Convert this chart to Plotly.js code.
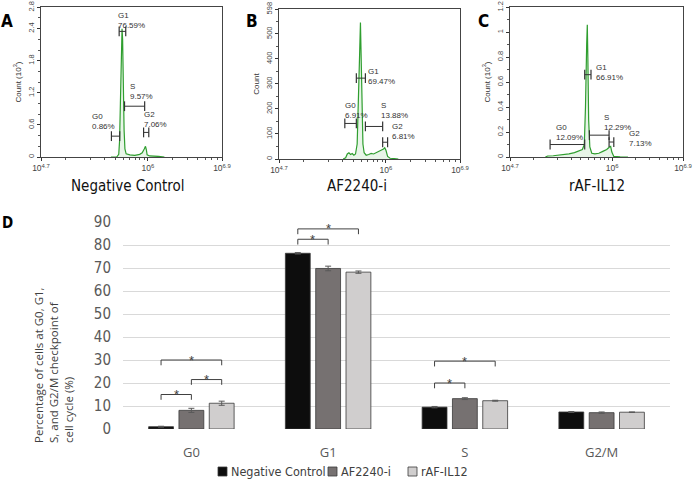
<!DOCTYPE html>
<html>
<head>
<meta charset="utf-8">
<script src="https://cdn.plot.ly/plotly-3.0.1.min.js"></script>
<style>
body{margin:0;background:#fff}
#chart{width:693px;height:479px}
</style>
</head>
<body>
<div id="chart"></div>
<script>
"use strict"

// histograms: x = log10(DNA content), y = count
let negX = [5.55,5.62,5.645,5.655,5.665,5.675,5.685,5.692,5.70,5.71,5.72,5.735,5.78,5.84,5.90,5.93,5.955,5.97,5.98,5.99,6.02,6.08,6.13,6.2];
let negY = [0,0,0.05,0.3,1.0,1.9,2.4,2.2,1.3,0.5,0.15,0.06,0.04,0.03,0.05,0.08,0.15,0.2,0.14,0.04,0.02,0.02,0.01,0];
let afX = [5.48,5.51,5.53,5.55,5.57,5.59,5.61,5.63,5.65,5.665,5.68,5.69,5.70,5.71,5.72,5.735,5.76,5.79,5.82,5.85,5.88,5.91,5.94,5.97,5.985,6.0,6.02,6.05,6.1,6.15];
let afY = [0,5,20,25,18,22,15,20,60,200,420,545,420,180,60,25,15,18,22,20,25,28,35,40,45,35,10,3,2,0];
let rafX = [5.15,5.18,5.25,5.35,5.45,5.52,5.58,5.62,5.645,5.66,5.675,5.683,5.69,5.70,5.715,5.74,5.78,5.83,5.88,5.93,5.965,5.98,5.995,6.02,6.1,6.2];
let rafY = [0,0.008,0.01,0.015,0.025,0.035,0.05,0.06,0.1,0.4,0.9,1.06,0.8,0.3,0.08,0.03,0.025,0.03,0.045,0.06,0.08,0.085,0.04,0.005,0.002,0];

// gates: [name, percent, from, to, level]
let negGates = [['G0','0.86%',5.556,5.657,0.39],['G1','76.59%',5.65,5.73,2.35],['S','9.57%',5.715,5.96,0.95],['G2','7.06%',5.947,6.01,0.46]];
let afGates = [['G0','6.91%',5.50,5.64,142],['G1','69.47%',5.64,5.75,323],['S','13.88%',5.75,5.96,130],['G2','6.81%',5.96,6.02,67]];
let rafGates = [['G0','12.09%',5.21,5.65,0.10],['G1','66.91%',5.65,5.73,0.66],['S','12.29%',5.71,5.96,0.175],['G2','7.13%',5.96,6.02,0.12]];
// label anchor per gate [x, y]
let negLabelPos = [[5.30,0.67],[5.617,2.55],[5.76,1.22],[5.93,0.71]];
let afLabelPos = [[5.48,193],[5.76,330],[5.91,193],[6.05,110]];
let rafLabelPos = [[5.26,0.20],[5.765,0.68],[5.87,0.28],[6.19,0.145]];

// bar chart
let phases = ['G0','G1','S','G2/M'];
let negPct = [1.0,76.4,9.5,7.4];
let negErr = [0.2,0.3,0.3,0.2];
let afPct = [8.1,69.8,13.2,7.1];
let afErr = [0.9,1.0,0.4,0.3];
let rafPct = [11.2,68.2,12.3,7.3];
let rafErr = [0.9,0.5,0.2,0.1];
// significance brackets: [phase index, bar a, bar b, height]
let sigPairs = [[0,0,1,15],[0,1,2,21.5],[0,0,2,30],[1,0,1,82.5],[1,0,2,87],[2,0,1,20],[2,0,2,29.5]];

let W = 693, H = 479;
let narrow = '"DejaVu Sans Condensed", "Liberation Sans Narrow", "Arial Narrow", sans-serif';
let arial = '"Liberation Sans", Arial, sans-serif';
let greenLine = '#2f9e2f';

function px(x){ return x / W; }
function py(y){ return 1 - y / H; }

let minorTicks = [];
for(let k=1;k<=9;k++){ minorTicks.push(Math.log10(k*1e5)); }
for(let k=2;k<=7;k++){ minorTicks.push(Math.log10(k*1e6)); }

function histX(l, r, anchor){
	return {
		domain: [px(l), px(r)], anchor: anchor,
		range: [4.7, 6.9],
		tickmode: 'array',
		tickvals: [4.7, 6, 6.9],
		ticktext: ['10<sup>4.7</sup>', '10<sup>6</sup>', '10<sup>6.9</sup>'],
		ticks: 'outside', ticklen: 3, tickcolor: '#333',
		minor: {tickmode: 'array', tickvals: minorTicks, ticks: 'outside', ticklen: 2, tickcolor: '#555'},
		showline: true, mirror: true, linecolor: '#444', linewidth: 1,
		showgrid: false, zeroline: false,
		ticklabeloverflow: 'allow',
		tickfont: {family: arial, size: 8.5, color: '#444'}
	};
}

function histY(top, bottom, anchor, max, vals, minorStep, title){
	return {
		domain: [py(bottom), py(top)], anchor: anchor,
		range: [0, max * 1.002],
		tickmode: 'array', tickvals: vals,
		tickangle: -90,
		ticks: 'outside', ticklen: 3, tickcolor: '#333',
		minor: {dtick: minorStep, ticks: 'outside', ticklen: 2, tickcolor: '#555'},
		showline: true, mirror: true, linecolor: '#444', linewidth: 1,
		showgrid: false, zeroline: false,
		ticklabeloverflow: 'allow',
		tickfont: {family: arial, size: 7.5, color: '#444'},
		title: {text: title, font: {family: arial, size: 8, color: '#333'}, standoff: 4}
	};
}

let data = [];
let annotations = [];
let shapes = [];

let panels = [
	{x: negX, y: negY, gates: negGates, pos: negLabelPos, xa: 'x', ya: 'y'},
	{x: afX, y: afY, gates: afGates, pos: afLabelPos, xa: 'x2', ya: 'y2'},
	{x: rafX, y: rafY, gates: rafGates, pos: rafLabelPos, xa: 'x3', ya: 'y3'}
];

panels.forEach(p => {
	data.push({
		x: p.x, y: p.y, xaxis: p.xa, yaxis: p.ya,
		type: 'scatter', mode: 'lines',
		line: {color: greenLine, width: 1.2},
		fill: 'tozeroy', fillcolor: 'rgba(130,200,130,0.18)',
		showlegend: false, hoverinfo: 'skip'
	});
	let gx = [], gy = [];
	p.gates.forEach((g, i) => {
		gx.push(g[2], g[3], null);
		gy.push(g[4], g[4], null);
		annotations.push({
			xref: p.xa, yref: p.ya, x: p.pos[i][0], y: p.pos[i][1],
			text: g[0] + '<br>' + g[1], showarrow: false,
			xanchor: 'left', yanchor: 'middle', align: 'left',
			font: {family: arial, size: 8, color: '#333'}
		});
	});
	data.push({
		x: gx, y: gy, xaxis: p.xa, yaxis: p.ya,
		type: 'scatter', mode: 'lines+markers',
		line: {color: '#333', width: 1},
		marker: {symbol: 'line-ns', size: 7, line: {width: 1.2, color: '#333'}},
		showlegend: false, hoverinfo: 'skip'
	});
});

let barColors = ['#0d0d0d', '#767171', '#d0cece'];
let barNames = ['Negative Control', 'AF2240-i', 'rAF-IL12'];
[[negPct, negErr], [afPct, afErr], [rafPct, rafErr]].forEach((s, i) => {
	data.push({
		type: 'bar', x: phases, y: s[0], name: barNames[i],
		xaxis: 'x4', yaxis: 'y4',
		marker: {color: barColors[i], line: {color: '#3a3a3a', width: 0.8}},
		error_y: {type: 'data', array: s[1], color: '#595959', thickness: 1, width: 3},
		showlegend: false, hoverinfo: 'skip'
	});
});

let bargap = 0.335;
let slot = (1 - bargap) / 3;
let bracketColor = '#404040';
sigPairs.forEach(b => {
	let xa = b[0] + (b[1] - 1) * slot,
		xb = b[0] + (b[2] - 1) * slot,
		y = b[3], drop = 2.3;
	let base = {type: 'line', xref: 'x4', yref: 'y4', line: {color: bracketColor, width: 1}};
	shapes.push(Object.assign({x0: xa, x1: xa, y0: y - drop, y1: y}, base));
	shapes.push(Object.assign({x0: xa, x1: xb, y0: y, y1: y}, base));
	shapes.push(Object.assign({x0: xb, x1: xb, y0: y - drop, y1: y}, base));
	annotations.push({
		xref: 'x4', yref: 'y4', x: (xa + xb) / 2, y: y,
		text: '*', showarrow: false, yanchor: 'middle',
		font: {family: arial, size: 13, color: '#404040'}
	});
});

// legend drawn by hand so the swatch-to-text spacing matches
let legendX = [218, 328, 408];
barNames.forEach((n, i) => {
	shapes.push({
		type: 'rect', xref: 'paper', yref: 'paper',
		x0: px(legendX[i]), x1: px(legendX[i] + 9), y0: py(476), y1: py(467),
		fillcolor: barColors[i], line: {color: '#3a3a3a', width: 0.8}
	});
	annotations.push({
		xref: 'paper', yref: 'paper', x: px(legendX[i] + 11), y: py(471.5),
		text: n, showarrow: false, xanchor: 'left', yanchor: 'middle',
		font: {family: narrow, size: 12.5, color: '#404040'}
	});
});

// panel letters and sample names
[['A', 7, 21, 17], ['B', 252, 21, 17], ['C', 483, 21, 17], ['D', 7, 223, 15]].forEach(l => {
	annotations.push({
		xref: 'paper', yref: 'paper', x: px(l[1]), y: py(l[2]),
		text: '<b>' + l[0] + '</b>', showarrow: false,
		xanchor: 'center', yanchor: 'middle',
		font: {family: narrow, size: l[3], color: '#000'}
	});
});
[['Negative Control', 128], ['AF2240-i', 357], ['rAF-IL12', 597]].forEach(t => {
	annotations.push({
		xref: 'paper', yref: 'paper', x: px(t[1]), y: py(186),
		text: t[0], showarrow: false,
		xanchor: 'center', yanchor: 'middle',
		font: {family: narrow, size: 15, color: '#111'}
	});
});

annotations.push({
	xref: 'paper', yref: 'paper', x: px(53), y: py(365),
	text: 'Percentage of cells at G0, G1,<br>S, and G2/M checkpoint of<br>cell cycle (%)',
	textangle: -90, align: 'left', showarrow: false,
	xanchor: 'center', yanchor: 'middle',
	font: {family: '"Open Sans", "Noto Sans", sans-serif', size: 11.5, color: '#404040'}
});

let layout = {
	width: W, height: H,
	margin: {l: 0, r: 0, t: 0, b: 0},
	paper_bgcolor: '#fff', plot_bgcolor: 'rgba(0,0,0,0)',
	showlegend: false,
	hovermode: false,
	barmode: 'group', bargap: bargap, bargroupgap: 0.18,
	xaxis: histX(41, 222, 'y'),
	yaxis: histY(7, 157, 'x', 2.8, [0, 0.6, 1.2, 1.8, 2.4, 2.8], 0.2, 'Count (10<sup>3</sup>)'),
	xaxis2: histX(279, 460, 'y2'),
	yaxis2: histY(9, 159, 'x2', 598, [0, 100, 200, 300, 400, 500, 598], 50, 'Count'),
	xaxis3: histX(510, 683, 'y3'),
	yaxis3: histY(7, 157, 'x3', 1.2, [0, 0.2, 0.4, 0.6, 0.8, 1, 1.2], 0.1, 'Count (10<sup>3</sup>)'),
	xaxis4: {
		domain: [px(123), px(670)], anchor: 'y4',
		type: 'category',
		showline: false, showgrid: false, zeroline: false,
		ticks: 'outside', ticklen: 11, tickcolor: 'rgba(0,0,0,0)',
		tickfont: {family: '"Open Sans", "Noto Sans", sans-serif', size: 13, color: '#595959'}
	},
	yaxis4: {
		domain: [py(429), py(222)], anchor: 'x4',
		range: [0, 90], dtick: 10,
		showline: false, zeroline: false,
		showgrid: true, gridcolor: '#d9d9d9', gridwidth: 1,
		ticks: 'outside', ticklen: 8, tickcolor: 'rgba(0,0,0,0)',
		tickfont: {family: narrow, size: 15, color: '#595959'}
	},
	annotations: annotations,
	shapes: shapes
};

Plotly.newPlot('chart', data, layout, {staticPlot: true, displayModeBar: false});
</script>
</body>
</html>
